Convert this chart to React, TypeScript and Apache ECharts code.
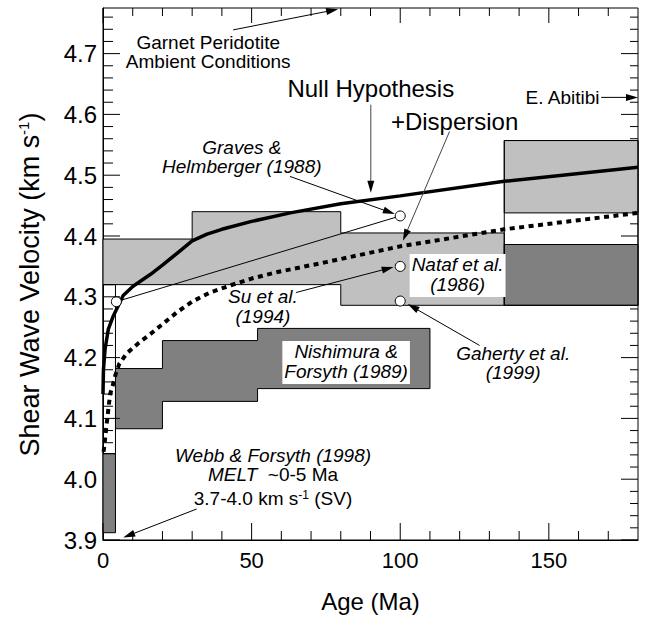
import React, { useEffect, useRef } from "react";
import * as echarts from "echarts";

// ---- axis ranges / ticks ----
const AGE_MIN = 0;
const AGE_MAX = 180;
const AGE_MAJOR = 50;
const VS_MIN = 3.9;
const VS_MAX = 4.775;
const VS_MAJOR = 0.1;
const X_MAJOR_TICKS = [0, 50, 100, 150];
const X_MINOR_TICKS = [10, 20, 30, 40, 60, 70, 80, 90, 110, 120, 130, 140, 160, 170];
const Y_MAJOR_TICKS = [3.9, 4.0, 4.1, 4.2, 4.3, 4.4, 4.5, 4.6, 4.7];
const Y_MINOR_TICKS = [
  3.92, 3.94, 3.96, 3.98, 4.02, 4.04, 4.06, 4.08, 4.12, 4.14, 4.16, 4.18,
  4.22, 4.24, 4.26, 4.28, 4.32, 4.34, 4.36, 4.38, 4.42, 4.44, 4.46, 4.48,
  4.52, 4.54, 4.56, 4.58, 4.62, 4.64, 4.66, 4.68, 4.72, 4.74, 4.76,
];

// ---- model curves ----
const NULL_AGE = [0, 0.15, 0.7, 1.8, 3.5, 5.1, 6.8, 10, 16, 20, 25, 30, 35, 40, 50, 63, 80, 100, 135, 180];
const NULL_VS = [4.14, 4.18, 4.214, 4.247, 4.269, 4.285, 4.302, 4.317, 4.337, 4.352, 4.372, 4.392, 4.403, 4.411, 4.424, 4.438, 4.453, 4.466, 4.49, 4.513];
const DISP_AGE = [0.2, 0.6, 1.1, 1.8, 2.4, 3.5, 4.2, 5.5, 8, 12, 16, 20, 25, 30, 36, 43, 50, 58, 75, 100, 135, 180];
const DISP_VS = [4.045, 4.062, 4.085, 4.115, 4.14, 4.158, 4.172, 4.19, 4.207, 4.224, 4.239, 4.255, 4.275, 4.292, 4.307, 4.319, 4.33, 4.34, 4.357, 4.383, 4.411, 4.438];

// ---- observation regions (age, velocity vertices) ----
const LIGHT_REGION = [[0, 4.395], [30, 4.395], [30, 4.44], [80, 4.44], [80, 4.405], [135, 4.405], [135, 4.286], [80, 4.286], [80, 4.32], [0, 4.32]];
const DARK_REGION = [[4.2, 4.083], [4.2, 4.182], [20, 4.182], [20, 4.228], [52, 4.228], [52, 4.248], [110, 4.248], [110, 4.149], [52, 4.149], [52, 4.128], [20, 4.128], [20, 4.083]];
const DARK_YOUNG = [[0, 3.912], [4.2, 3.912], [4.2, 4.042], [0, 4.042]];
const OPEN_YOUNG = [[0, 4.042], [4.2, 4.042], [4.2, 4.32], [0, 4.32]];
const LIGHT_OLD = [[135, 4.438], [180, 4.438], [180, 4.557], [135, 4.557]];
const DARK_OLD = [[135, 4.286], [180, 4.286], [180, 4.386], [135, 4.386]];
const OPEN_OLD = [[135, 4.286], [180, 4.286], [180, 4.557], [135, 4.557]];

// ---- point measurements ----
const POINT_AGE = [4.5, 100, 100, 100];
const POINT_VS = [4.292, 4.433, 4.35, 4.293];
const LINK_AGE = [4.5, 100];
const LINK_VS = [4.292, 4.433];

// ---- annotation arrows: [fromAge, fromVs, toAge, toVs] ----
const ARROWS = [
  [43.8, 4.739, 79.1, 4.773],
  [90.1, 4.616, 90.1, 4.471],
  [116.6, 4.572, 100.9, 4.392],
  [62.9, 4.498, 98.2, 4.436],
  [64.9, 4.307, 97.8, 4.349],
  [126.7, 4.22, 102.5, 4.288],
  [167.6, 4.628, 180, 4.628],
  [31.5, 3.951, 6.8, 3.904],
];
const ARROW_COLORS = ["#000", "#444", "#444", "#000", "#000", "#000", "#000", "#000"];

// ---- annotation texts ----
const LABEL_TEXT = [
  "{n|Garnet Peridotite}\n{n|Ambient Conditions}",
  "{big|Null Hypothesis}",
  "{big|+Dispersion}",
  "{i|Graves &}\n{i|Helmberger (1988)}",
  "{n|E. Abitibi}",
  "{i|Su et al.}\n{i|(1994)}",
  "{i|Nataf et al.}\n{i|(1986)}",
  "{i|Nishimura &}\n{i|Forsyth (1989)}",
  "{i|Gaherty et al.}\n{i|(1999)}",
  "{i|Webb & Forsyth (1998)}\n{i|MELT}{n|  ~0-5 Ma}",
  "{n|3.7-4.0 km s}{sup|-1}{n| (SV)}",
];
const LABEL_AGE = [35.4, 90.1, 118.3, 46.7, 154.6, 53.8, 119.3, 81.8, 138.0, 57.2, 57.2];
const LABEL_VS = [4.703, 4.642, 4.588, 4.53, 4.627, 4.284, 4.335, 4.192, 4.191, 4.023, 3.968];
const LABEL_BOXED = [false, false, false, false, false, false, true, true, false, false, false];

const FONT = "'Liberation Sans', Arial, Helvetica, sans-serif";

const RICH = {
  n: { fontSize: 19, lineHeight: 19.5, fontFamily: FONT, fill: "#000" },
  i: { fontSize: 19, lineHeight: 19.5, fontStyle: "italic", fontFamily: FONT, fill: "#000" },
  big: { fontSize: 24, lineHeight: 26, fontFamily: FONT, fill: "#000" },
  sup: { fontSize: 12, lineHeight: 12, verticalAlign: "top", fontFamily: FONT, fill: "#000" },
};

// velocity spans covered by filled boxes at the left / right edges (ticks hidden there)
const yRange = (pts: number[][]) => [Math.min(...pts.map((p) => p[1])), Math.max(...pts.map((p) => p[1]))];
const LEFT_COVER = [yRange(DARK_YOUNG), [4.32, 4.395]];
const RIGHT_COVER = [yRange(DARK_OLD), yRange(LIGHT_OLD)];
const covered = (v: number, spans: number[][]) => spans.some((s) => v > s[0] + 0.001 && v < s[1] - 0.001);

function regionSeries(points: number[][], fill: string) {
  return {
    type: "custom",
    coordinateSystem: "cartesian2d",
    silent: true,
    z: 2,
    data: [[points[0][0], points[0][1]]],
    renderItem: (_p: any, api: any) => ({
      type: "polygon",
      shape: { points: points.map((pt) => api.coord(pt)) },
      style: { fill, stroke: "#000", lineWidth: 1 },
    }),
  };
}

function tickElements(api: any) {
  const els: any[] = [];
  const line = (x1: number, y1: number, x2: number, y2: number) =>
    els.push({ type: "line", shape: { x1, y1, x2, y2 }, style: { stroke: "#000", lineWidth: 1 } });
  const xt = (v: number, lb: number, lt: number) => {
    const b = api.coord([v, VS_MIN]);
    const t = api.coord([v, VS_MAX]);
    const x = b[0];
    line(x, b[1], x, b[1] - lb);
    line(x, t[1], x, t[1] + lt);
  };
  const yt = (v: number, ll: number, lr: number) => {
    const l = api.coord([AGE_MIN, v]);
    const r = api.coord([AGE_MAX, v]);
    const y = l[1];
    if (!covered(v, LEFT_COVER)) line(l[0], y, l[0] + ll, y);
    if (!covered(v, RIGHT_COVER)) line(r[0], y, r[0] - lr, y);
  };
  X_MAJOR_TICKS.forEach((v) => xt(v, 17, 15));
  X_MINOR_TICKS.forEach((v) => xt(v, 9, 8));
  Y_MAJOR_TICKS.forEach((v) => yt(v, 17, 17));
  Y_MINOR_TICKS.forEach((v) => yt(v, 10, 8));
  return els;
}

function renderArrow(params: any, api: any) {
  const p1 = api.coord([api.value(0), api.value(1)]);
  const p2 = api.coord([api.value(2), api.value(3)]);
  const dx = p2[0] - p1[0];
  const dy = p2[1] - p1[1];
  const len = Math.hypot(dx, dy) || 1;
  const ux = dx / len;
  const uy = dy / len;
  const hl = 12;
  const hw = 3.5;
  const bx = p2[0] - ux * hl;
  const by = p2[1] - uy * hl;
  const color = ARROW_COLORS[params.dataIndex] || "#000";
  const children: any[] = [
    {
      type: "line",
      shape: { x1: p1[0], y1: p1[1], x2: bx + ux * 2, y2: by + uy * 2 },
      style: { stroke: color, lineWidth: 1 },
    },
    {
      type: "polygon",
      shape: {
        points: [
          [p2[0], p2[1]],
          [bx - uy * hw, by + ux * hw],
          [bx + uy * hw, by - ux * hw],
        ],
      },
      style: { fill: "#000" },
    },
  ];
  if (params.dataIndex === 0) {
    tickElements(api).forEach((e) => children.push(e));
  }
  return { type: "group", children };
}

export default function App() {
  const ref = useRef<HTMLDivElement>(null);

  useEffect(() => {
    if (!ref.current) return;
    const chart = echarts.init(ref.current, null, { renderer: "svg" });

    const option: any = {
      animation: false,
      textStyle: { fontFamily: FONT, color: "#000" },
      grid: {
        left: 103,
        right: 7,
        top: 8,
        bottom: 76,
        show: true,
        borderColor: "#000",
        borderWidth: 1,
        backgroundColor: "transparent",
      },
      xAxis: {
        type: "value",
        min: AGE_MIN,
        max: AGE_MAX,
        interval: AGE_MAJOR,
        splitLine: { show: false },
        axisLine: { show: true, lineStyle: { color: "#000", width: 1 } },
        axisTick: { show: false },
        minorTick: { show: false },
        axisLabel: {
          show: true,
          fontSize: 22,
          color: "#000",
          fontFamily: FONT,
          margin: 9,
          showMaxLabel: false,
          formatter: (v: number) => String(Math.round(v)),
        },
        name: "Age (Ma)",
        nameLocation: "middle",
        nameGap: 49,
        nameTextStyle: { fontSize: 24, color: "#000", fontFamily: FONT },
      },
      yAxis: {
        type: "value",
        min: VS_MIN,
        max: VS_MAX,
        interval: VS_MAJOR,
        splitLine: { show: false },
        axisLine: { show: true, lineStyle: { color: "#000", width: 1 } },
        axisTick: { show: false },
        minorTick: { show: false },
        axisLabel: {
          show: true,
          fontSize: 24,
          color: "#000",
          fontFamily: FONT,
          margin: 6,
          showMaxLabel: false,
          formatter: (v: number) => v.toFixed(1),
        },
        name: "Shear Wave Velocity (km s{sup|-1})",
        nameLocation: "middle",
        nameRotate: 90,
        nameGap: 60,
        nameTextStyle: {
          fontSize: 27,
          color: "#000",
          fontFamily: FONT,
          padding: [0, 21, 0, 0],
          rich: {
            sup: { fontSize: 15, lineHeight: 15, verticalAlign: "top", fontFamily: FONT, color: "#000" },
          },
        },
      },
      series: [
        regionSeries(LIGHT_REGION, "#c0c0c0"),
        regionSeries(LIGHT_OLD, "#c0c0c0"),
        regionSeries(DARK_REGION, "#808080"),
        regionSeries(DARK_YOUNG, "#808080"),
        regionSeries(DARK_OLD, "#808080"),
        regionSeries(OPEN_YOUNG, "none"),
        regionSeries(OPEN_OLD, "none"),
        {
          type: "line",
          z: 3,
          silent: true,
          symbol: "none",
          data: LINK_AGE.map((a, i) => [a, LINK_VS[i]]),
          lineStyle: { color: "#000", width: 1 },
        },
        {
          type: "line",
          z: 3,
          silent: true,
          symbol: "none",
          data: DISP_AGE.map((a, i) => [a, DISP_VS[i]]),
          lineStyle: { color: "#000", width: 4, type: [5, 4.5], cap: "butt" },
        },
        {
          type: "line",
          z: 3,
          silent: true,
          symbol: "none",
          data: NULL_AGE.map((a, i) => [a, NULL_VS[i]]),
          lineStyle: { color: "#000", width: 3.5 },
        },
        {
          type: "scatter",
          z: 4,
          silent: true,
          symbol: "circle",
          symbolSize: 10,
          data: POINT_AGE.map((a, i) => [a, POINT_VS[i]]),
          itemStyle: { color: "#fff", borderColor: "#000", borderWidth: 1, opacity: 1 },
        },
        {
          type: "custom",
          coordinateSystem: "cartesian2d",
          z: 5,
          silent: true,
          encode: { x: [0, 2], y: [1, 3] },
          data: ARROWS,
          renderItem: renderArrow,
        },
        {
          type: "custom",
          coordinateSystem: "cartesian2d",
          z: 6,
          silent: true,
          data: LABEL_AGE.map((a, i) => [a, LABEL_VS[i]]),
          renderItem: (params: any, api: any) => {
            const i = params.dataIndex;
            const p = api.coord([api.value(0), api.value(1)]);
            return {
              type: "text",
              x: p[0],
              y: p[1],
              style: {
                text: LABEL_TEXT[i],
                rich: RICH,
                fontFamily: FONT,
                fontSize: 19,
                fill: "#000",
                align: "center",
                verticalAlign: "middle",
                backgroundColor: LABEL_BOXED[i] ? "#fff" : undefined,
                padding: LABEL_BOXED[i] ? [1, 2, 3, 2] : 0,
              },
            };
          },
        },
      ],
    };

    chart.setOption(option);
    return () => chart.dispose();
  }, []);

  return (
    <div
      ref={ref}
      style={{ position: "absolute", left: 0, top: 0, width: 645, height: 618, background: "#fff" }}
    />
  );
}
